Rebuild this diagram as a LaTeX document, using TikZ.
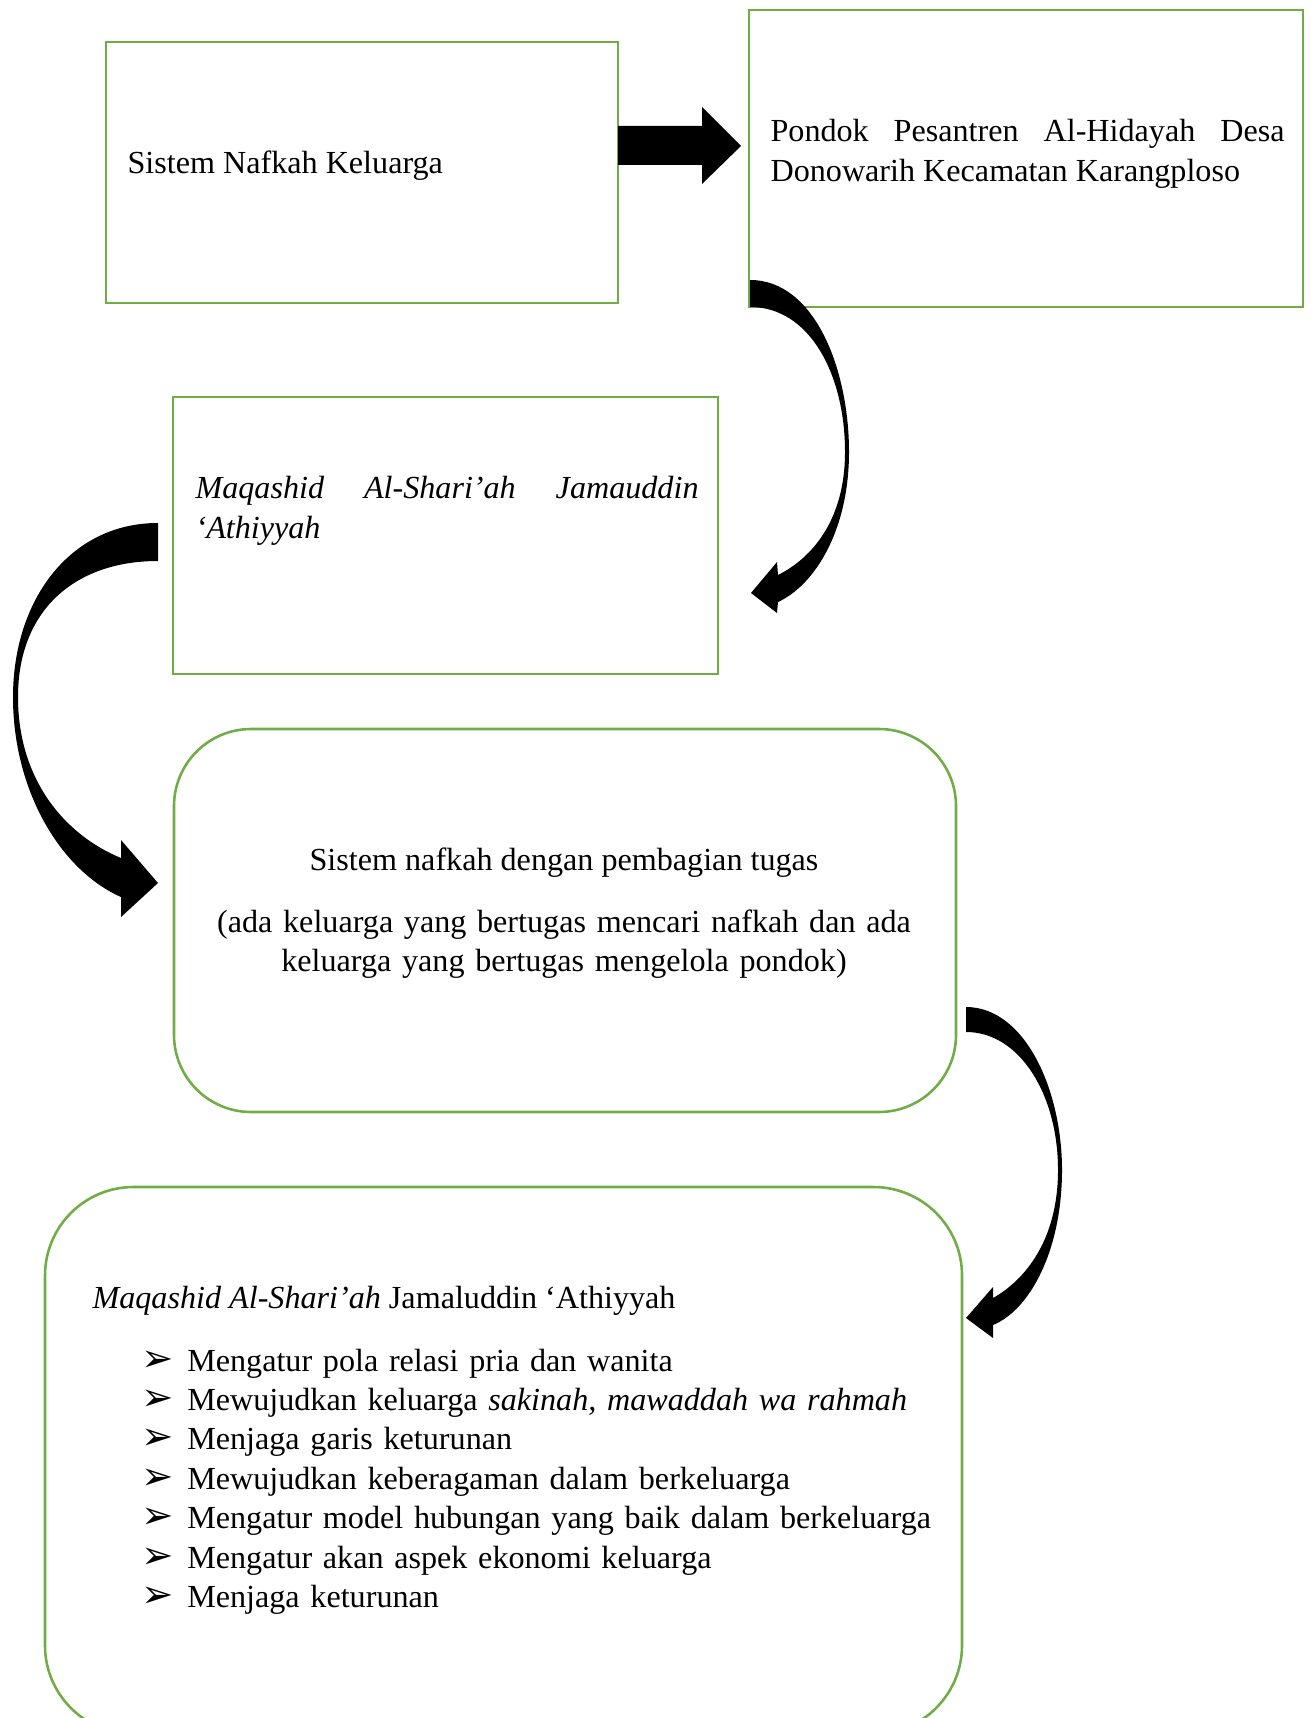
\documentclass[tikz,border=0pt]{standalone}
\usepackage{fontspec}
\usepackage{xcolor}
\setmainfont{Liberation Serif}
\newfontfamily\simbol{DejaVu Sans}
\definecolor{hijau}{HTML}{70AD47}
\newcommand{\px}{0.35pt}
\newcommand{\butir}[1]{\makebox[16pt][l]{\simbol\fontsize{13.5}{13.8}\selectfont ➢}#1}

\begin{document}
\begin{tikzpicture}[x=0.35pt, y=-0.35pt,
  kotak/.style={draw=hijau, line width=0.9pt, inner sep=0pt, outer sep=0pt},
  tulisan/.style={inner sep=0pt, font=\fontsize{11.25}{13.8}\selectfont}]
\useasboundingbox (0,0) rectangle (1311,1718);
\clip (0,0) rectangle (1311,1718);

% Sistem nafkah keluarga
\node[kotak, minimum width=512*\px, minimum height=261*\px] (sistem) at (362,172.5) {};
\node[tulisan, anchor=base west] (sistemteks) at (127,174) {Sistem Nafkah Keluarga};

% Pondok pesantren
\node[kotak, minimum width=554*\px, minimum height=297*\px] (pondok) at (1026,158.5) {};
\node[tulisan, anchor=base west, text width=514*\px, align=justify] (pondokteks) at (770,142)
  {Pondok Pesantren Al-Hidayah Desa\linebreak Donowarih Kecamatan Karangploso};

% Maqashid
\node[kotak, minimum width=545*\px, minimum height=277*\px] (maqashid) at (445.5,535.5) {};
\node[tulisan, anchor=base west, text width=503*\px, align=justify] (maqashidteks) at (195,499)
  {\itshape Maqashid Al-Shari’ah Jamauddin\linebreak ‘Athiyyah};

% Pembagian tugas
\node[kotak, rounded corners=27pt, minimum width=782*\px, minimum height=383*\px] (tugas) at (565,920.5) {};
\node[tulisan, anchor=base] (tugasjudul) at (564,870) {Sistem nafkah dengan pembagian tugas};
\node[tulisan, anchor=base, text width=760*\px, align=center] (tugasisi) at (564,932)
  {(ada keluarga yang bertugas mencari nafkah dan ada\\ keluarga yang bertugas mengelola pondok)};

% Hasil
\node[kotak, rounded corners=31pt, minimum width=917*\px, minimum height=547*\px] (hasil) at (503.5,1460.5) {};
\node[tulisan, anchor=base west] (hasiljudul) at (92,1308) {\textit{Maqashid Al-Shari’ah} Jamaluddin ‘Athiyyah};
\node[tulisan, anchor=base west, text width=815*\px, align=left] (hasildaftar) at (141,1371) {%
  \butir{Mengatur pola relasi pria dan wanita}\\
  \butir{Mewujudkan keluarga \textit{sakinah, mawaddah wa rahmah}}\\
  \butir{Menjaga garis keturunan}\\
  \butir{Mewujudkan keberagaman dalam berkeluarga}\\
  \butir{Mengatur model hubungan yang baik dalam berkeluarga}\\
  \butir{Mengatur akan aspek ekonomi keluarga}\\
  \butir{Menjaga keturunan}};

% Panah lurus
\fill (618,126) -- (702,126) -- (702,107) -- (741,146) -- (702,184) -- (702,165) -- (618,165) -- cycle;

% Panah lengkung kanan atas
\fill (750,280) .. controls (815,280) and (849,370) .. (849,452)
  .. controls (849,530) and (815,585) .. (778,602) -- (777,613) -- (751,593) -- (777,562) -- (778,575)
  .. controls (812,558) and (845,520) .. (845,452)
  .. controls (845,375) and (810,307) .. (750,307) -- cycle;

% Panah lengkung kiri
\fill (158,523) .. controls (70,523) and (13,600) .. (13,697)
  .. controls (13,790) and (60,870) .. (121,897) -- (121,917) -- (158,883) -- (121,840) -- (121,858)
  .. controls (65,835) and (18,780) .. (18,697)
  .. controls (18,610) and (75,561) .. (158,561) -- cycle;

% Panah lengkung kanan bawah
\fill (966,1007) .. controls (1025,1007) and (1062,1090) .. (1062,1170)
  .. controls (1062,1250) and (1030,1310) .. (993,1325) -- (993,1338) -- (966,1318) -- (993,1287) -- (993,1298)
  .. controls (1025,1280) and (1058,1240) .. (1058,1170)
  .. controls (1058,1095) and (1020,1032) .. (966,1032) -- cycle;
\end{tikzpicture}
\end{document}
